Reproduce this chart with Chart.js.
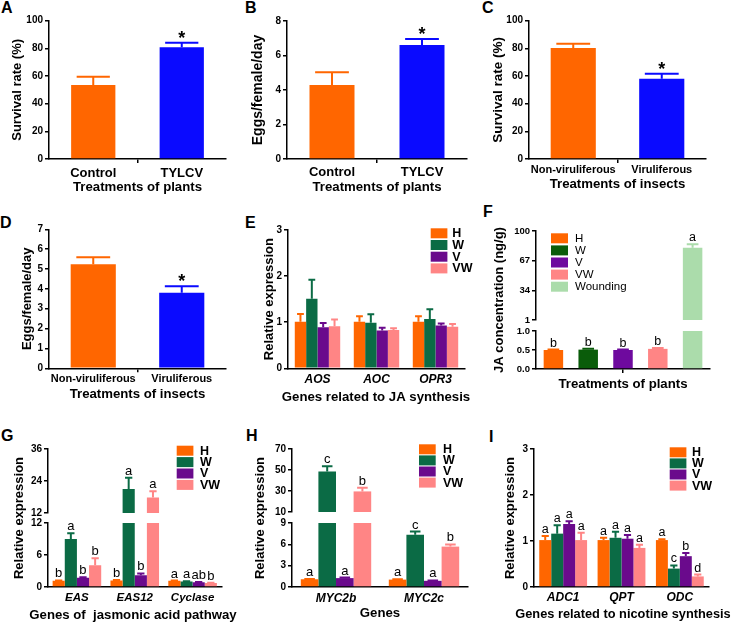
<!DOCTYPE html>
<html><head><meta charset="utf-8">
<script src="https://cdn.jsdelivr.net/npm/chart.js@4.4.1/dist/chart.umd.min.js"></script>
<style>
html,body{margin:0;padding:0;background:#fff;}
#wrap{position:relative;width:732px;height:623px;overflow:hidden;background:#fff;}
#wrap canvas{position:absolute;left:0;top:0;}
.pl{position:absolute;font:bold 16px 'Liberation Sans',Arial,sans-serif;line-height:16px;color:#000;}
</style></head><body>
<div id="wrap">
<div class="pl" style="left:1px;top:-0.5px">A</div>
<div class="pl" style="left:245px;top:-0.5px">B</div>
<div class="pl" style="left:482px;top:-0.5px">C</div>
<div class="pl" style="left:0px;top:214.5px">D</div>
<div class="pl" style="left:245px;top:214.8px">E</div>
<div class="pl" style="left:483px;top:203.5px">F</div>
<div class="pl" style="left:1px;top:428.2px">G</div>
<div class="pl" style="left:246px;top:428.2px">H</div>
<div class="pl" style="left:489px;top:428.8px">I</div>
</div>
<script>
// ---------------- DATA ----------------
const plantTreatments = ["Control", "TYLCV"];
const insectTreatments = ["Non-viruliferous", "Viruliferous"];

const survivalPlants = [53.5, 80.8];
const survivalPlantsSem = [6.0, 3.3];
const survivalPlantsSig = ["", "*"];

const eggsPlants = [4.29, 6.61];
const eggsPlantsSem = [0.74, 0.35];
const eggsPlantsSig = ["", "*"];

const survivalInsects = [80.2, 58.0];
const survivalInsectsSem = [3.1, 3.6];
const survivalInsectsSig = ["", "*"];

const eggsInsects = [5.24, 3.81];
const eggsInsectsSem = [0.35, 0.32];
const eggsInsectsSig = ["", "*"];

const groups = ["H", "W", "V", "VW"];

const jaGenes = ["AOS", "AOC", "OPR3"];
const jaH = [1.01, 1.01, 1.01];   const jaHSem = [0.17, 0.12, 0.12];
const jaW = [1.51, 0.99, 1.07];   const jaWSem = [0.41, 0.18, 0.21];
const jaV = [0.89, 0.82, 0.93];   const jaVSem = [0.09, 0.06, 0.04];
const jaVW = [0.91, 0.83, 0.90];  const jaVWSem = [0.15, 0.04, 0.06];

const jaTreatments = ["H", "W", "V", "VW", "Wounding"];
const jaConc = [0.50, 0.51, 0.50, 0.53, 81.5];
const jaConcSem = [0.01, 0.02, 0.01, 0.02, 3.7];
const jaConcSig = ["b", "b", "b", "b", "a"];

const pathGenes = ["EAS", "EAS12", "Cyclase"];
const pathH = [1.15, 1.2, 1.15];  const pathHSem = [0.08, 0.1, 0.05];  const pathHSig = ["b", "b", "a"];
const pathW = [9.0, 21.0, 1.05];  const pathWSem = [1.1, 4.2, 0.05];  const pathWSig = ["a", "a", "a"];
const pathV = [1.75, 2.2, 0.9];   const pathVSem = [0.1, 0.35, 0.05]; const pathVSig = ["b", "b", "ab"];
const pathVW = [4.1, 17.8, 0.75]; const pathVWSem = [1.3, 2.4, 0.05]; const pathVWSig = ["b", "a", "b"];

const mycGenes = ["MYC2b", "MYC2c"];
const mycH = [1.09, 1.04];  const mycHSem = [0.05, 0.05]; const mycHSig = ["a", "a"];
const mycW = [48.5, 7.34];  const mycWSem = [5.0, 0.45];  const mycWSig = ["c", "c"];
const mycV = [1.25, 0.87];  const mycVSem = [0.08, 0.05]; const mycVSig = ["a", "a"];
const mycVW = [29.6, 5.68]; const mycVWSem = [3.6, 0.3];  const mycVWSig = ["b", "b"];

const nicGenes = ["ADC1", "QPT", "ODC"];
const nicH = [1.02, 1.02, 1.02];  const nicHSem = [0.09, 0.05, 0.02]; const nicHSig = ["a", "a", "a"];
const nicW = [1.16, 1.07, 0.40];  const nicWSem = [0.18, 0.13, 0.07]; const nicWSig = ["a", "a", "c"];
const nicV = [1.37, 1.05, 0.67];  const nicVSem = [0.06, 0.08, 0.07]; const nicVSig = ["a", "a", "b"];
const nicVW = [1.02, 0.85, 0.23]; const nicVWSem = [0.16, 0.07, 0.04]; const nicVWSig = ["a", "a", "d"];

const ticksSurvival = [0, 20, 40, 60, 80, 100];
const ticksEggsPlants = [0, 2, 4, 6, 8];
const ticksEggsInsects = [0, 1, 2, 3, 4, 5, 6, 7];
const ticksRel3 = [0, 1, 2, 3];
const ticksJaTop = [1, 34, 67, 100];
const ticksJaBottom = [0, 0.5, 1.0];
const ticksPathTop = [12, 24, 36];
const ticksPathBottom = [0, 6, 12];
const ticksMycTop = [10, 30, 50, 70];
const ticksMycBottom = [0, 3, 6, 9];

// ---------------- STYLE ----------------
const FONT = "'Liberation Sans', Arial, Helvetica, sans-serif";
Chart.defaults.font.family = FONT;
Chart.defaults.color = '#000';
const C_H = '#FF6600', C_W = '#0B6B45', C_V = '#6A0A8C', C_VW = '#FF8585', C_BLUE = '#0A0AFF';
const groupColors = [C_H, C_W, C_V, C_VW];
const jaColors = ['#FF6600', '#0A5C0A', '#6E0A9E', '#FF8585', '#ABDCAB'];

function annotPlugin(a) {
  return {
    id: 'annot',
    afterDatasetsDraw(chart) {
      const ctx = chart.ctx, ar = chart.chartArea, ys = chart.scales.y;
      chart.data.datasets.forEach((ds, di) => {
        const meta = chart.getDatasetMeta(di);
        meta.data.forEach((bar, i) => {
          const v = ds.data[i];
          if (v == null) return;
          const e = (ds.sem || [])[i] || 0;
          const top = v + e;
          const col = Array.isArray(ds.backgroundColor) ? ds.backgroundColor[i] : ds.backgroundColor;
          const x = bar.x, w = bar.width;
          const yv = ys.getPixelForValue(v), ye = ys.getPixelForValue(top);
          ctx.save();
          ctx.beginPath();
          ctx.rect(ar.left, ar.top - 1.5, ar.right - ar.left, ar.bottom - ar.top + 1.5);
          ctx.clip();
          if (e > 0) {
            ctx.strokeStyle = col; ctx.lineWidth = a.lw;
            ctx.beginPath();
            ctx.moveTo(x, yv); ctx.lineTo(x, ye);
            ctx.moveTo(x - w * a.cap / 2, ye); ctx.lineTo(x + w * a.cap / 2, ye);
            ctx.stroke();
          }
          ctx.restore();
          const m = (ds.sig || [])[i];
          if (m && top >= ys.min && top <= ys.max) {
            ctx.save();
            ctx.fillStyle = '#000'; ctx.font = a.font;
            ctx.textAlign = 'center'; ctx.textBaseline = 'alphabetic';
            ctx.fillText(m, x, ye - a.gap);
            ctx.restore();
          }
        });
      });
    }
  };
}
function legendPlugin(lg) {
  return {
    id: 'keyBox',
    afterDraw(chart) {
      if (!lg) return;
      const ctx = chart.ctx;
      ctx.save();
      lg.items.forEach((it, i) => {
        const cy = lg.y + i * lg.dy;
        ctx.fillStyle = it.color;
        ctx.fillRect(lg.bx, cy - lg.bh / 2, lg.bw, lg.bh);
        ctx.fillStyle = '#000'; ctx.font = lg.font;
        ctx.textAlign = 'left'; ctx.textBaseline = 'middle';
        ctx.fillText(it.label, lg.lx, cy + 0.5);
      });
      ctx.restore();
    }
  };
}
function textPlugin(items) {
  return {
    id: 'texts',
    afterDraw(chart) {
      if (!items) return;
      const ctx = chart.ctx;
      items.forEach(t => {
        ctx.save();
        ctx.translate(t.x, t.y); ctx.rotate(t.rot || 0);
        ctx.font = t.font; ctx.fillStyle = '#000';
        ctx.textAlign = 'center'; ctx.textBaseline = 'middle';
        ctx.fillText(t.text, 0, 0);
        ctx.restore();
      });
    }
  };
}

// floor: values at or below it belong to the lower segment of a broken axis
function bar(data, sem, sig, color, bp, cp, floor) {
  const d = floor == null ? data.slice() : data.map(v => (v > floor ? v : null));
  return { data: d, sem, sig, backgroundColor: color, borderWidth: 0,
           barPercentage: bp, categoryPercentage: cp, clip: 0 };
}

function mk(o) {
  const c = document.createElement('canvas');
  c.width = 732; c.height = 623;
  document.getElementById('wrap').appendChild(c);
  const showX = !!o.x;
  const L = o.L, B = showX ? o.B : 0;
  const xs = {
    type: 'category', offset: true, display: showX,
    grid: {
      display: true, drawOnChartArea: false, offset: o.xGridOffset !== false,
      drawTicks: o.xTickIndex != null, tickLength: 4, lineWidth: 1.5,
      color: ctx => ctx.index === o.xTickIndex ? '#000' : 'rgba(0,0,0,0)'
    },
    border: { display: true, color: '#000', width: 1.5 },
    ticks: {
      display: showX && o.x.labels !== false, font: showX ? o.x.font : undefined,
      padding: showX ? (o.x.pad || 0) : 0, maxRotation: 0, minRotation: 0, autoSkip: false, color: '#000'
    },
    title: (showX && o.x.title) ? { display: true, text: o.x.title, font: { size: o.x.tfs || 13, weight: 'bold' }, padding: 0, color: '#000' } : { display: false },
    afterFit: s => { s.height = B; }
  };
  const ys = {
    type: 'linear', min: o.y.min, max: o.y.max,
    afterBuildTicks: s => { s.ticks = o.y.ticks.map(v => ({ value: v })); },
    grid: { display: true, drawOnChartArea: false, drawTicks: true, tickLength: 4, color: '#000', lineWidth: 1.5 },
    border: { display: true, color: '#000', width: 1.5 },
    ticks: { font: { size: o.y.fs || 10, weight: 'bold' }, padding: 2, color: '#000',
             callback: v => (o.y.fmt ? o.y.fmt(v) : String(v)) },
    title: o.y.title ? { display: true, text: o.y.title, font: { size: o.y.tfs, weight: 'bold' }, padding: 0, color: '#000' } : { display: false },
    afterFit: s => { s.width = L; }
  };
  return new Chart(c, {
    type: 'bar',
    data: { labels: o.labels, datasets: o.datasets },
    options: {
      responsive: false, animation: false, devicePixelRatio: 1, events: [],
      layout: { autoPadding: false, padding: { left: o.area.l - L, top: o.area.t, right: 732 - o.area.r, bottom: 623 - o.area.b - B } },
      plugins: { legend: { display: false }, tooltip: { enabled: false }, title: { display: false } },
      scales: { x: xs, y: ys }
    },
    plugins: [annotPlugin(o.ann), legendPlugin(o.legend), textPlugin(o.texts)]
  });
}

const starAnn = { cap: 0.75, lw: 2, font: 'bold 18px ' + FONT, gap: -1 };
const letAnn = { cap: 0.6, lw: 2, font: '13px ' + FONT, gap: 3 };
const catFontBig = { size: 13, weight: 'bold' };
const catFontSmall = { size: 11, weight: 'bold' };
const geneFont = { size: 12, weight: 'bold', style: 'italic' };
const titleFont = 'bold 13.2px ' + FONT;
function groupLegend(bx, y, dy, lx) {
  return { items: groups.map((g, i) => ({ label: g, color: groupColors[i] })), bx, bw: 16.7, bh: 10, y, dy, lx, font: 'bold 12.5px ' + FONT };
}

// ---------------- A ----------------
mk({ area: { l: 49, t: 20.7, r: 226, b: 159 }, L: 39.3, B: 35.8, labels: plantTreatments,
  datasets: [bar(survivalPlants, survivalPlantsSem, survivalPlantsSig, [C_H, C_BLUE], 0.5, 1)],
  x: { title: 'Treatments of plants', tfs: 13.2, font: catFontBig, pad: 2.2 }, xTickIndex: 1, xGridOffset: true,
  y: { min: 0, max: 100, ticks: ticksSurvival, title: 'Survival rate (%)', tfs: 13 }, ann: starAnn });

// ---------------- B ----------------
mk({ area: { l: 287, t: 21, r: 467, b: 159 }, L: 37.4, B: 35.8, labels: plantTreatments,
  datasets: [bar(eggsPlants, eggsPlantsSem, eggsPlantsSig, [C_H, C_BLUE], 0.5, 1)],
  x: { title: 'Treatments of plants', tfs: 13.2, font: catFontBig, pad: 1.7 }, xTickIndex: 1, xGridOffset: true,
  y: { min: 0, max: 8, ticks: ticksEggsPlants, title: 'Eggs/female/day', tfs: 14 }, ann: starAnn });

// ---------------- C ----------------
mk({ area: { l: 529, t: 20.7, r: 706, b: 159 }, L: 39.1, B: 33.3, labels: insectTreatments,
  datasets: [bar(survivalInsects, survivalInsectsSem, survivalInsectsSig, [C_H, C_BLUE], 0.51, 1)],
  x: { title: 'Treatments of insects', tfs: 13.2, font: catFontSmall, pad: 0 }, xTickIndex: 1, xGridOffset: true,
  y: { min: 0, max: 100, ticks: ticksSurvival, title: 'Survival rate (%)', tfs: 13.5 }, ann: starAnn });

// ---------------- D ----------------
mk({ area: { l: 49, t: 229.3, r: 226, b: 368.3 }, L: 29.3, B: 33.5, labels: insectTreatments,
  datasets: [bar(eggsInsects, eggsInsectsSem, eggsInsectsSig, [C_H, C_BLUE], 0.51, 1)],
  x: { title: 'Treatments of insects', tfs: 13.2, font: catFontSmall, pad: 0 }, xTickIndex: 1, xGridOffset: true,
  y: { min: 0, max: 7, ticks: ticksEggsInsects, title: 'Eggs/female/day', tfs: 13 }, ann: starAnn });

// ---------------- E ----------------
mk({ area: { l: 288, t: 230, r: 465, b: 368.3 }, L: 26.8, B: 37.3, labels: jaGenes,
  datasets: [
    bar(jaH, jaHSem, null, C_H, 1, 0.77), bar(jaW, jaWSem, null, C_W, 1, 0.77),
    bar(jaV, jaVSem, null, C_V, 1, 0.77), bar(jaVW, jaVWSem, null, C_VW, 1, 0.77)],
  x: { title: null, font: geneFont, pad: 4.5 },
  y: { min: 0, max: 3, ticks: ticksRel3, title: 'Relative expression', tfs: 13 }, ann: letAnn,
  legend: groupLegend(430.7, 233.3, 11.7, 452.3),
  texts: [{ text: 'Genes related to JA synthesis', x: 376, y: 397.8, font: titleFont }] });

// ---------------- F (broken axis) ----------------
const fAnn = { cap: 0.6, lw: 2, font: '12.5px ' + FONT, gap: 3 };
mk({ area: { l: 536, t: 231, r: 710, b: 320 }, L: 30, labels: jaTreatments,
  datasets: [bar(jaConc, jaConcSem, jaConcSig, jaColors, 0.56, 1, ticksJaTop[0])],
  y: { min: 1, max: 100, ticks: ticksJaTop, fs: 9.5 }, ann: fAnn });
mk({ area: { l: 536, t: 331, r: 710, b: 369 }, L: 30, B: 22.8, labels: jaTreatments,
  datasets: [bar(jaConc, jaConcSem, jaConcSig, jaColors, 0.56, 1)],
  x: { title: 'Treatments of plants', tfs: 13.2, labels: false }, xTickIndex: 2, xGridOffset: false,
  y: { min: 0, max: 1, ticks: ticksJaBottom, fs: 9.5, fmt: v => v.toFixed(1) }, ann: fAnn,
  legend: { items: jaTreatments.map((t, i) => ({ label: t, color: jaColors[i] })), bx: 551, bw: 17, bh: 10, y: 238.3, dy: 12.1, lx: 575, font: '11.5px ' + FONT },
  texts: [{ text: 'JA concentration (ng/g)', x: 499, y: 300, rot: -Math.PI / 2, font: 'bold 13px ' + FONT }] });

// ---------------- G (broken axis) ----------------
function gSets(floor) {
  return [bar(pathH, pathHSem, pathHSig, C_H, 1, 0.84, floor), bar(pathW, pathWSem, pathWSig, C_W, 1, 0.84, floor),
          bar(pathV, pathVSem, pathVSig, C_V, 1, 0.84, floor), bar(pathVW, pathVWSem, pathVWSig, C_VW, 1, 0.84, floor)];
}
mk({ area: { l: 48, t: 449, r: 221.5, b: 513 }, L: 30, labels: pathGenes, datasets: gSets(ticksPathTop[0]),
  y: { min: 12, max: 36, ticks: ticksPathTop }, ann: letAnn });
mk({ area: { l: 48, t: 523, r: 221.5, b: 587 }, L: 30, B: 35.8, labels: pathGenes, datasets: gSets(),
  x: { title: null, font: { size: 11.5, weight: 'bold', style: 'italic' }, pad: 4.1 },
  y: { min: 0, max: 12, ticks: ticksPathBottom }, ann: letAnn,
  legend: groupLegend(176.7, 450.7, 11.4, 200),
  texts: [{ text: 'Relative expression', x: 19, y: 518, rot: -Math.PI / 2, font: 'bold 13px ' + FONT },
          { text: 'Genes of  jasmonic acid pathway', x: 133, y: 615, font: titleFont }] });

// ---------------- H (broken axis) ----------------
function hSets(floor) {
  return [bar(mycH, mycHSem, mycHSig, C_H, 1, 0.8, floor), bar(mycW, mycWSem, mycWSig, C_W, 1, 0.8, floor),
          bar(mycV, mycVSem, mycVSig, C_V, 1, 0.8, floor), bar(mycVW, mycVWSem, mycVWSig, C_VW, 1, 0.8, floor)];
}
mk({ area: { l: 292, t: 449, r: 468, b: 512 }, L: 30, labels: mycGenes, datasets: hSets(ticksMycTop[0]),
  y: { min: 10, max: 70, ticks: ticksMycTop }, ann: letAnn });
mk({ area: { l: 292, t: 523, r: 468, b: 587 }, L: 30, B: 34.3, labels: mycGenes, datasets: hSets(),
  x: { title: 'Genes', tfs: 13.2, font: geneFont, pad: 4.3 },
  y: { min: 0, max: 9, ticks: ticksMycBottom }, ann: letAnn,
  legend: groupLegend(419, 449.3, 11.1, 443),
  texts: [{ text: 'Relative expression', x: 260, y: 518, rot: -Math.PI / 2, font: 'bold 13px ' + FONT }] });

// ---------------- I ----------------
mk({ area: { l: 534, t: 449, r: 709, b: 587 }, L: 31.3, B: 35.3, labels: nicGenes,
  datasets: [
    bar(nicH, nicHSem, nicHSig, C_H, 1, 0.82), bar(nicW, nicWSem, nicWSig, C_W, 1, 0.82),
    bar(nicV, nicVSem, nicVSig, C_V, 1, 0.82), bar(nicVW, nicVWSem, nicVWSig, C_VW, 1, 0.82)],
  x: { title: null, font: geneFont, pad: 3.8 },
  y: { min: 0, max: 3, ticks: ticksRel3, title: 'Relative expression', tfs: 13 },
  ann: { cap: 0.6, lw: 2, font: '12.5px ' + FONT, gap: 3 },
  legend: groupLegend(669.7, 452.3, 11.1, 692),
  texts: [{ text: 'Genes related to nicotine synthesis', x: 623, y: 614.5, font: 'bold 12.8px ' + FONT }] });
</script>
</body></html>
